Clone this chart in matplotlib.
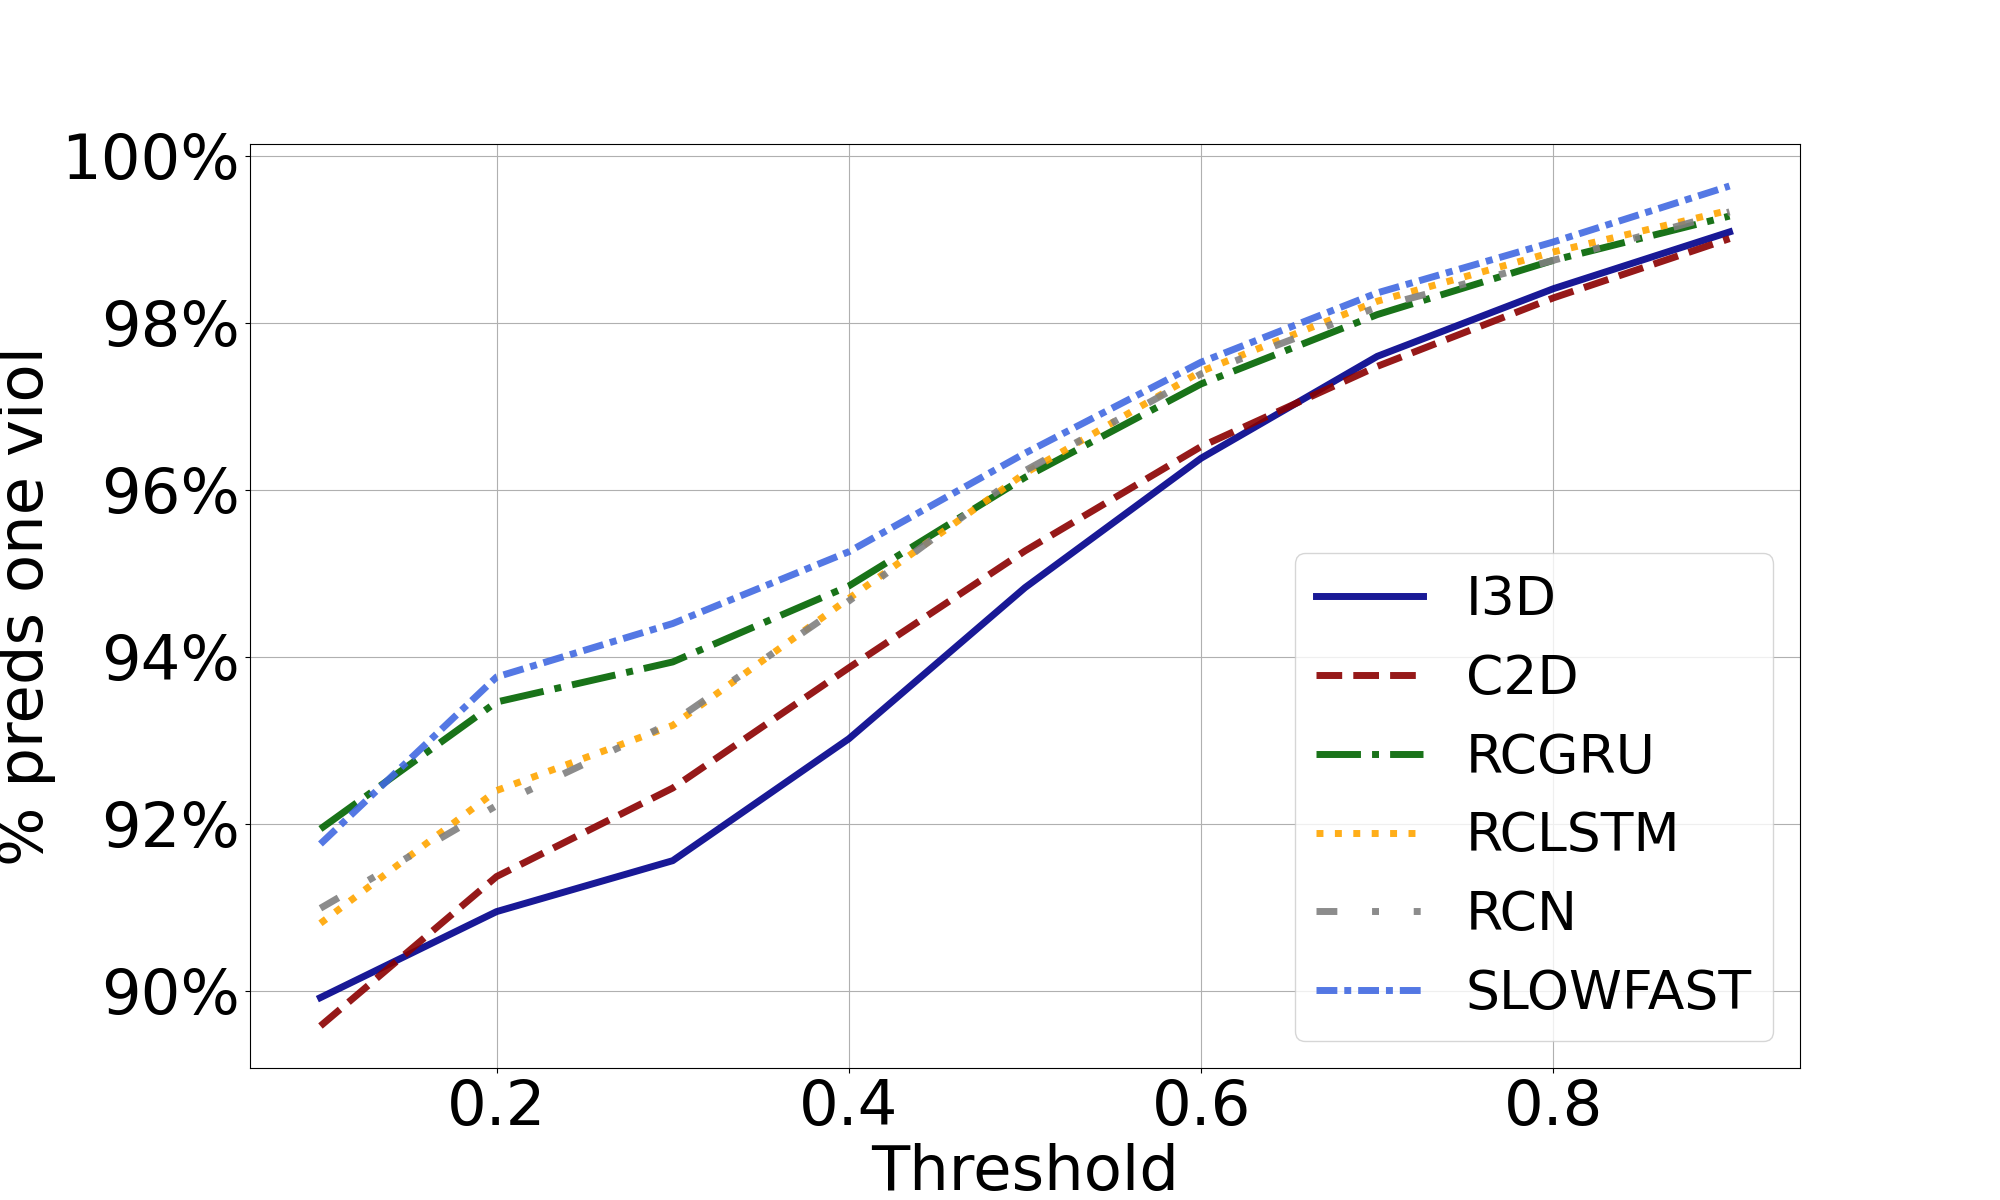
import matplotlib
matplotlib.use('Agg')
import matplotlib.pyplot as plt
from matplotlib.ticker import PercentFormatter, MultipleLocator

thresholds = [0.1, 0.2, 0.3, 0.4, 0.5, 0.6, 0.7, 0.8, 0.9]

i3d = [89.92, 90.95, 91.56, 93.02, 94.83, 96.38, 97.60, 98.41, 99.09]
c2d = [89.58, 91.37, 92.43, 93.87, 95.27, 96.52, 97.48, 98.30, 99.01]
rcgru = [91.94, 93.46, 93.94, 94.85, 96.15, 97.27, 98.10, 98.75, 99.28]
rclstm = [90.81, 92.40, 93.18, 94.70, 96.20, 97.42, 98.26, 98.85, 99.35]
rcn = [90.99, 92.22, 93.22, 94.67, 96.23, 97.39, 98.19, 98.75, 99.33]
slowfast = [91.76, 93.76, 94.40, 95.26, 96.44, 97.53, 98.36, 98.97, 99.64]

fig, ax = plt.subplots(figsize=(20, 12), dpi=100)

ax.plot(thresholds, i3d, label='I3D', color='darkblue', linestyle='-', lw=5, alpha=0.9)
ax.plot(thresholds, c2d, label='C2D', color='darkred', linestyle='--', lw=5, alpha=0.9)
ax.plot(thresholds, rcgru, label='RCGRU', color='darkgreen', linestyle='-.', lw=5, alpha=0.9)
ax.plot(thresholds, rclstm, label='RCLSTM', color='orange', linestyle=':', lw=5, alpha=0.9)
ax.plot(thresholds, rcn, label='RCN', color='gray', linestyle=(0, (3, 5, 1, 5, 1, 5)), lw=5, alpha=0.9)
ax.plot(thresholds, slowfast, label='SLOWFAST', color='royalblue', linestyle=(0, (3, 1, 1, 1)), lw=5, alpha=0.9)

ax.yaxis.set_major_locator(MultipleLocator(2))
ax.yaxis.set_major_formatter(PercentFormatter(100, decimals=0))
ax.tick_params(labelsize=45)
ax.set_xlabel('Threshold', fontsize=45)
ax.set_ylabel('% preds one viol', fontsize=45)
ax.grid(True)
ax.legend(loc='lower right', fontsize=38.5)

plt.savefig('out.png')
